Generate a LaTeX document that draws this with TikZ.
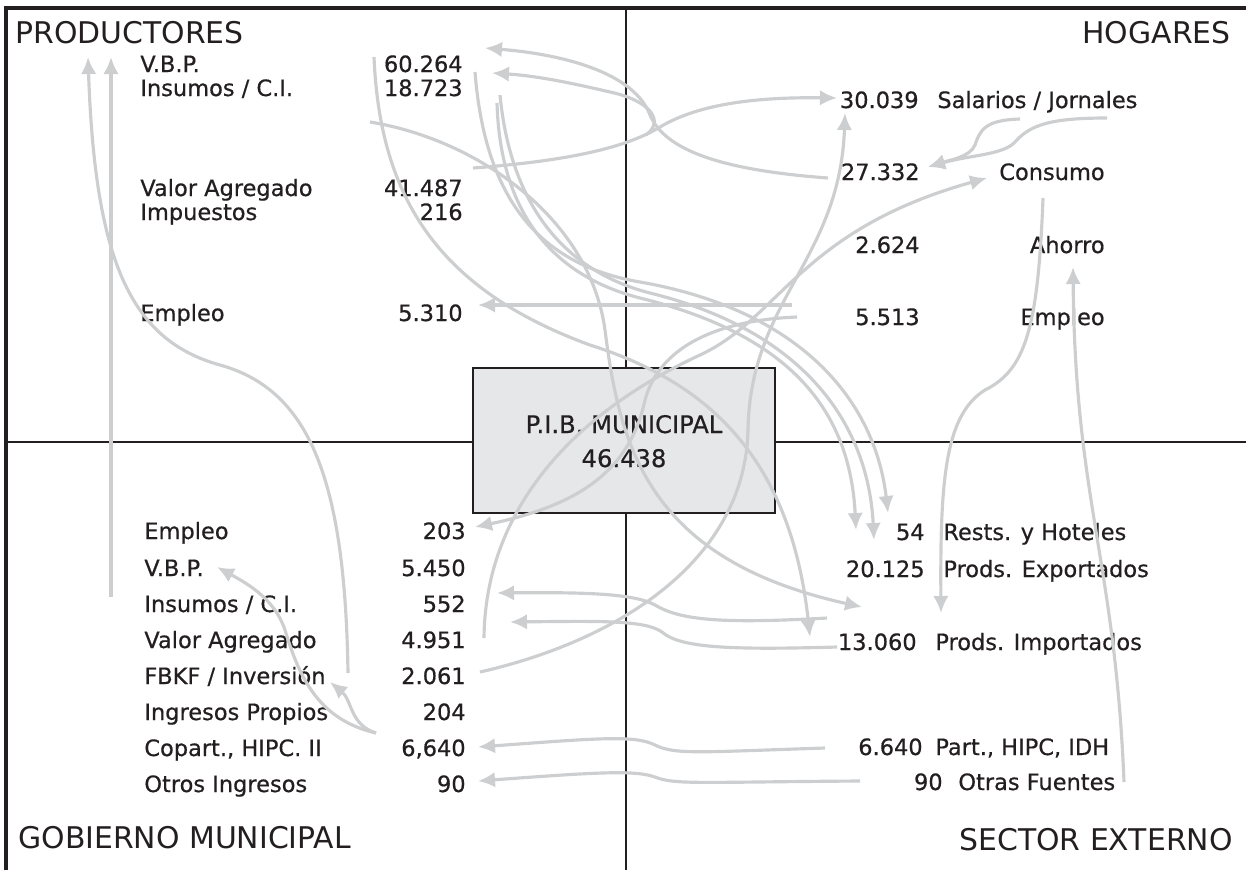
\documentclass[tikz,border=0pt]{standalone}
\usepackage{fontspec}
\setmainfont{DejaVu Sans}
\newfontfamily\lblfont{DejaVu Sans}[FakeBold=0.6]
\usetikzlibrary{arrows.meta}

\definecolor{flowgray}{RGB}{205,206,208}
\definecolor{boxgray}{RGB}{230,231,232}
\definecolor{inkblack}{RGB}{35,31,32}

\tikzset{
  lbl/.style={anchor=base west, inner sep=0pt, text=inkblack, font=\lblfont\fontsize{12.8}{14}\selectfont},
  num/.style={anchor=base east, inner sep=0pt, text=inkblack, font=\lblfont\fontsize{12.8}{14}\selectfont},
  sector/.style={inner sep=0pt, text=inkblack, font=\fontsize{17}{20}\selectfont},
  flow/.style={draw=flowgray, line width=1.8pt, -{Latex[length=0.34cm,width=0.31cm]}},
  pibbox/.style={draw=inkblack, fill=boxgray, line width=0.8pt, minimum width=6.04cm, minimum height=2.9cm}
}

\begin{document}
\begin{tikzpicture}[x=0.02cm, y=-0.02cm]
    \useasboundingbox (0,0) rectangle (1246,870);

    % frame and quadrants
    \draw[inkblack, line width=2pt] (6,870) -- (6,8) -- (1246,8);
    \draw[inkblack, line width=1.1pt] (626,8) -- (626,870);
    \draw[inkblack, line width=1.1pt] (6,442) -- (1246,442);
    \node (pib) [pibbox] at (624,440.5) {};
    \node (pibName) [lbl, anchor=base, font=\lblfont\fontsize{13.8}{16}\selectfont] at (624,433) {P.I.B. MUNICIPAL};
    \node (pibVal) [lbl, anchor=base, font=\lblfont\fontsize{13.8}{16}\selectfont] at (624,467) {46.438};

    % sectors
    \node (prod) [sector, anchor=base west] at (15,43) {PRODUCTORES};
    \node (hog) [sector, anchor=base east] at (1231,43) {HOGARES};
    \node (gob) [sector, anchor=base west] at (18,848) {GOBIERNO MUNICIPAL};
    \node (ext) [sector, anchor=base east] at (1233,850) {SECTOR EXTERNO};

    % productores
    \node (pVbp) [lbl] at (140,72) {V.B.P.};
    \node (pVbpN) [num] at (463,72) {60.264};
    \node (pIns) [lbl] at (140,96) {Insumos / C.I.};
    \node (pInsN) [num] at (463,96) {18.723};
    \node (pVa) [lbl] at (140,196) {Valor Agregado};
    \node (pVaN) [num] at (463,196) {41.487};
    \node (pImp) [lbl] at (140,220) {Impuestos};
    \node (pImpN) [num] at (463,220) {216};
    \node (pEmp) [lbl] at (140,321) {Empleo};
    \node (pEmpN) [num] at (463,321) {5.310};

    % hogares
    \node (hSalN) [num] at (919,108) {30.039};
    \node (hSal) [lbl] at (937,108) {Salarios / Jornales};
    \node (hConN) [num] at (920,180) {27.332};
    \node (hCon) [num] at (1105,180) {Consumo};
    \node (hAhoN) [num] at (920,253) {2.624};
    \node (hAho) [num] at (1105,253) {Ahorro};
    \node (hEmpN) [num] at (920,325) {5.513};
    \node (hEmp) [num] at (1105,325) {Empleo};

    % gobierno municipal
    \node (gEmp) [lbl] at (144,539) {Empleo};
    \node (gEmpN) [num] at (466,539) {203};
    \node (gVbp) [lbl] at (144,576) {V.B.P.};
    \node (gVbpN) [num] at (466,576) {5.450};
    \node (gIns) [lbl] at (144,612) {Insumos / C.I.};
    \node (gInsN) [num] at (466,612) {552};
    \node (gVa) [lbl] at (144,648) {Valor Agregado};
    \node (gVaN) [num] at (466,648) {4.951};
    \node (gFbkf) [lbl] at (144,684) {FBKF / Inversión};
    \node (gFbkfN) [num] at (466,684) {2.061};
    \node (gIng) [lbl] at (144,720) {Ingresos Propios};
    \node (gIngN) [num] at (466,720) {204};
    \node (gCop) [lbl] at (144,756) {Copart., HIPC. II};
    \node (gCopN) [num] at (466,756) {6,640};
    \node (gOtr) [lbl] at (144,792) {Otros Ingresos};
    \node (gOtrN) [num] at (466,792) {90};

    % sector externo
    \node (eHotN) [num] at (925,540) {54};
    \node (eHot) [lbl] at (943,540) {Rests. y Hoteles};
    \node (eExpN) [num] at (925,577) {20.125};
    \node (eExp) [lbl] at (943,577) {Prods. Exportados};
    \node (eImpN) [num] at (917,650) {13.060};
    \node (eImp) [lbl] at (935,650) {Prods. Importados};
    \node (ePartN) [num] at (923,755) {6.640};
    \node (ePart) [lbl] at (935,755) {Part., HIPC, IDH};
    \node (eOtrN) [num] at (943,790) {90};
    \node (eOtr) [lbl] at (958,790) {Otras Fuentes};

    % flow ends
    \coordinate (tVbp) at (485,48);
    \coordinate (tIns) at (492,73);
    \coordinate (tSal) at (837,98);
    \coordinate (tSalB) at (845,113);
    \coordinate (tCon) at (928,167);
    \coordinate (tCons) at (987,178);
    \coordinate (tAho) at (1073,267);
    \coordinate (tEmpP) at (478,305);
    \coordinate (tEmpG) at (475,527);
    \coordinate (tHot1) at (888,513);
    \coordinate (tHot2) at (874,540);
    \coordinate (tHot3) at (856,530);
    \coordinate (tVbpG) at (217,567);
    \coordinate (tInsG) at (497,593);
    \coordinate (tExp) at (862,607);
    \coordinate (tImpB) at (941,613);
    \coordinate (tVaG) at (510,622);
    \coordinate (tImp) at (810,637);
    \coordinate (tFbkf) at (330,682);
    \coordinate (tCop) at (478,747);
    \coordinate (tOtr) at (478,781);
    \coordinate (tProd1) at (88,57);
    \coordinate (tProd2) at (111,57);

    \coordinate (cVbp) at (374,57);
    \coordinate (cVbpA) at (475,72);
    \coordinate (cInsA) at (500,95);
    \coordinate (cInsB) at (497,103);
    \coordinate (cIns) at (370,122);
    \coordinate (cLoop) at (646,135);
    \coordinate (cVa) at (473,168);
    \coordinate (c27) at (828,178);
    \coordinate (cSal1) at (1020,119);
    \coordinate (cSal2) at (1107,118);
    \coordinate (cCons) at (1043,198);
    \coordinate (cEmpH) at (792,305);
    \coordinate (cEmpH2) at (797,317);
    \coordinate (cInsG) at (111,597);
    \coordinate (cExp) at (827,618);
    \coordinate (cVaG) at (484,638);
    \coordinate (cImp) at (837,647);
    \coordinate (cInv) at (480,672);
    \coordinate (cFbkf) at (348,673);
    \coordinate (cCop) at (376,733);
    \coordinate (cPart) at (825,748);
    \coordinate (cOtras) at (860,781);
    \coordinate (cOtr) at (1124,782);

    % productores <-> hogares
    \draw[flow] (c27) .. controls (720,170) and (665,150) .. (650,115) .. controls (635,75) and (570,55) .. (tVbp);
    \draw[flow] (cVa) .. controls (580,160) and (630,145) .. (660,127) .. controls (700,103) and (760,97) .. (tSal);
    \draw[flow] (cLoop) .. controls (666,120) and (648,100) .. (610,92) .. controls (580,85) and (540,76) .. (tIns);
    \draw[flow] (cEmpH) -- (tEmpP);

    % hogares
    \draw[flow] (cSal1) .. controls (985,120) and (980,130) .. (975,145) .. controls (970,157) and (950,160) .. (tCon);
    \draw[flow] (cSal2) .. controls (1050,118) and (1030,125) .. (1015,142) .. controls (1003,155) and (970,155) .. (tCon);
    \draw[flow] (cCons) .. controls (1038,330) and (1025,370) .. (985,390) .. controls (945,415) and (940,480) .. (tImpB);
    \draw[flow] (cOtr) .. controls (1115,560) and (1075,500) .. (tAho);
    \draw[flow] (cEmpH2) .. controls (720,320) and (660,345) .. (645,400) .. controls (630,470) and (580,505) .. (tEmpG);

    % productores -> sector externo
    \draw[flow] (cIns) .. controls (480,140) and (590,220) .. (605,330) .. controls (620,450) and (650,560) .. (tExp);
    \draw[flow] (cVbp) .. controls (380,200) and (440,290) .. (590,345) .. controls (700,380) and (790,450) .. (tImp);
    \draw[flow] (cVbpA) .. controls (485,200) and (540,265) .. (640,282) .. controls (800,310) and (875,400) .. (tHot1);
    \draw[flow] (cInsA) .. controls (510,200) and (560,270) .. (650,293) .. controls (800,330) and (868,420) .. (tHot2);
    \draw[flow] (cInsB) .. controls (500,210) and (550,275) .. (640,298) .. controls (790,335) and (850,410) .. (tHot3);

    % gobierno municipal
    \draw[flow] (cInv) .. controls (620,640) and (745,560) .. (748,430) .. controls (750,300) and (840,260) .. (tSalB);
    \draw[flow] (cVaG) .. controls (485,520) and (560,420) .. (700,355) .. controls (780,318) and (800,230) .. (tCons);
    \draw[flow] (cInsG) -- (tProd2);
    \draw[flow] (cFbkf) .. controls (345,480) and (310,390) .. (220,365) .. controls (130,340) and (95,260) .. (tProd1);
    \draw[flow] (cCop) .. controls (320,720) and (300,680) .. (285,630) .. controls (275,600) and (250,585) .. (tVbpG);
    \draw[flow] (cCop) .. controls (350,725) and (352,700) .. (tFbkf);

    % sector externo -> gobierno
    \draw[flow] (cExp) .. controls (720,624) and (680,620) .. (655,605) .. controls (635,594) and (590,592) .. (tInsG);
    \draw[flow] (cImp) .. controls (730,650) and (680,648) .. (662,632) .. controls (645,620) and (600,621) .. (tVaG);
    \draw[flow] (cPart) .. controls (700,752) and (675,755) .. (655,745) .. controls (635,735) and (600,738) .. (tCop);
    \draw[flow] (cOtras) .. controls (700,782) and (675,785) .. (655,777) .. controls (635,770) and (600,772) .. (tOtr);
\end{tikzpicture}
\end{document}
